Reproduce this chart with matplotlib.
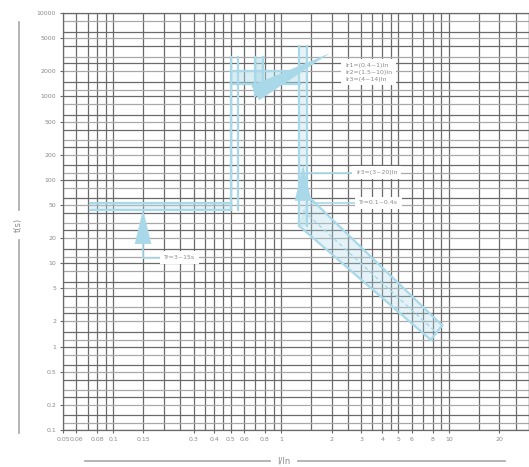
import math
import matplotlib
matplotlib.use("Agg")
import matplotlib.pyplot as plt
from matplotlib.lines import Line2D

# axis ticks and grid
x_ticks = [0.05, 0.06, 0.08, 0.1, 0.15, 0.3, 0.4, 0.5, 0.6, 0.8,
           1, 2, 3, 4, 5, 6, 8, 10, 20]
y_ticks = [0.1, 0.2, 0.5, 1, 2, 5, 10, 20, 50, 100, 200, 500,
           1000, 2000, 5000, 10000]
x_grid_steps = [1, 1.5, 2, 2.5, 3, 3.5, 4, 4.5, 5, 6, 7, 8, 9]
y_grid_steps = [1, 1.2, 1.5, 2, 2.5, 3, 4, 5, 6, 8]
y_dark_steps = [1, 1.5, 2.5, 4, 6]

# characteristic bands (x = I/In, y = t in s)
short_x = [0.072, 0.5]
short_y = [53, 44]
band_a_x = [0.5, 0.55]
band_a_y = [44, 3000]
band_b_x = [0.7, 0.78]
band_b_y = [1000, 3000]
plateau_x = [0.5, 1.3]
plateau_y = [1400, 2000]
band_c_x = [1.28, 1.43]
band_c_y = [28, 4000]
diag_upper_x = [1.43, 9.1]
diag_upper_y = [65, 1.8]
diag_lower_x = [1.28, 7.8]
diag_lower_y = [28, 1.2]

# annotations
label_texts = ["Ir1=(0.4~1)In\nIr2=(1.5~10)In\nIr3=(4~14)In",
               "Ir3=(3~20)In",
               "Tr=0.1~0.4s",
               "Tr=3~15s"]
label_x = [2.4, 2.8, 2.9, 0.2]
label_y = [1950, 122, 53, 11.7]

BLUE = "#a9d9e8"
GRID = "#6a6a6a"
LIGHT = "#a8a8a8"
TXT = "#8a8a8a"


def decade_values(steps, lo, hi):
    """Grid positions for every step of every decade between lo and hi."""
    vals = []
    d = 10 ** math.floor(math.log10(lo))
    while d < hi * 1.0001:
        for s in steps:
            v = s * d
            if lo * 0.9999 <= v <= hi * 1.0001:
                vals.append((s, v))
        d *= 10
    return vals


fig = plt.figure(figsize=(5.29, 4.67), dpi=100)
ax = fig.add_axes([63 / 529, 37 / 467, 466 / 529, 417 / 467])
ax.set_xscale("log")
ax.set_yscale("log")
ax.set_xlim(0.05, 30)
ax.set_ylim(0.1, 10000)

for s, v in decade_values(x_grid_steps, 0.05, 30):
    ax.axvline(v, color=GRID, lw=0.9, zorder=1)
for s, v in decade_values(y_grid_steps, 0.1, 10000):
    dark = any(abs(s - d) < 1e-9 for d in y_dark_steps)
    ax.axhline(v, color=GRID if dark else LIGHT, lw=0.9, zorder=1)

# bands
lw = 1.6
ax.fill_between(short_x, short_y[1], short_y[0], color=BLUE, alpha=0.35, lw=0, zorder=2)
for yy in short_y:
    ax.plot(short_x, [yy, yy], color=BLUE, lw=lw, zorder=3)
for xx in band_a_x:
    ax.plot([xx, xx], band_a_y, color=BLUE, lw=lw, zorder=3)
for xx in band_b_x:
    ax.plot([xx, xx], band_b_y, color=BLUE, lw=lw, zorder=3)
ax.fill_betweenx(band_b_y, band_b_x[0], band_b_x[1], color=BLUE, alpha=0.5, lw=0, zorder=2)
ax.fill_between(plateau_x, plateau_y[0], plateau_y[1], color=BLUE, alpha=0.45, lw=0, zorder=2)
for yy in plateau_y:
    ax.plot(plateau_x, [yy, yy], color=BLUE, lw=lw, zorder=3)
for xx in band_c_x:
    ax.plot([xx, xx], band_c_y, color=BLUE, lw=lw, zorder=3)
ax.fill_betweenx(band_c_y, band_c_x[0], band_c_x[1], color=BLUE, alpha=0.3, lw=0, zorder=2)
ax.plot(diag_upper_x, diag_upper_y, color=BLUE, lw=lw, zorder=3)
ax.plot(diag_lower_x, diag_lower_y, color=BLUE, lw=lw, zorder=3)
ax.plot([diag_upper_x[1], diag_lower_x[1]], [diag_upper_y[1], diag_lower_y[1]],
        color=BLUE, lw=lw, zorder=3)
ax.fill([diag_upper_x[0], diag_upper_x[1], diag_lower_x[1], diag_lower_x[0]],
        [diag_upper_y[0], diag_upper_y[1], diag_lower_y[1], diag_lower_y[0]],
        color=BLUE, alpha=0.3, lw=0, zorder=2)
mid_x = [(a * b) ** 0.5 for a, b in zip(diag_upper_x, diag_lower_x)]
mid_y = [(a * b) ** 0.5 for a, b in zip(diag_upper_y, diag_lower_y)]
ax.plot(mid_x, mid_y, color=BLUE, lw=1.0, ls=(0, (3, 2)), zorder=3)

# arrows
wedge = dict(arrowstyle="wedge,tail_width=1.2", color=BLUE, lw=0,
             shrinkA=0, shrinkB=0)
ax.annotate("", xy=(1.95, 3300), xytext=(0.7, 1100), arrowprops=wedge, zorder=4)
ax.annotate("", xy=(1.35, 150), xytext=(1.35, 56), arrowprops=wedge, zorder=4)
ax.annotate("", xy=(0.15, 44), xytext=(0.15, 17), arrowprops=wedge, zorder=4)

# labels
ax.plot([0.15, 0.15, label_x[3]], [17, label_y[3], label_y[3]], color=BLUE, lw=1.2, zorder=3)
ax.plot([1.45, label_x[1]], [label_y[1], label_y[1]], color=BLUE, lw=1.2, zorder=3)
ax.plot([1.5, label_x[2]], [label_y[2], label_y[2]], color=BLUE, lw=1.2, zorder=3)
for t, xx, yy in zip(label_texts, label_x, label_y):
    ax.text(xx, yy, t, fontsize=4.5, color=TXT, va="center", ha="left",
            linespacing=1.5, zorder=5,
            bbox=dict(boxstyle="square,pad=0.6", fc="white", ec="none"))

ax.set_xticks(x_ticks)
ax.set_xticklabels([f"{v:g}" for v in x_ticks])
ax.set_yticks(y_ticks)
ax.set_yticklabels([f"{v:g}" for v in y_ticks])
ax.minorticks_off()
ax.tick_params(axis="both", labelsize=4.5, labelcolor=TXT, length=2, color=GRID, pad=3)
for sp in ax.spines.values():
    sp.set_color(GRID)
    sp.set_linewidth(0.9)

# axis titles with rules
fig.text(18 / 529, 1 - 225 / 467, "t(s)", rotation=90, fontsize=6, color=TXT,
         ha="center", va="center")
fig.add_artist(Line2D([19 / 529] * 2, [1 - 22 / 467, 1 - 210 / 467], color=LIGHT, lw=1.2))
fig.add_artist(Line2D([19 / 529] * 2, [1 - 240 / 467, 1 - 433 / 467], color=LIGHT, lw=1.2))
fig.text(284 / 529, 1 - 461 / 467, "I/In", fontsize=6, color=TXT, ha="center", va="center")
fig.add_artist(Line2D([85 / 529, 270 / 529], [1 - 461 / 467] * 2, color=LIGHT, lw=1.2))
fig.add_artist(Line2D([298 / 529, 505 / 529], [1 - 461 / 467] * 2, color=LIGHT, lw=1.2))

fig.savefig("out.png", dpi=100)
